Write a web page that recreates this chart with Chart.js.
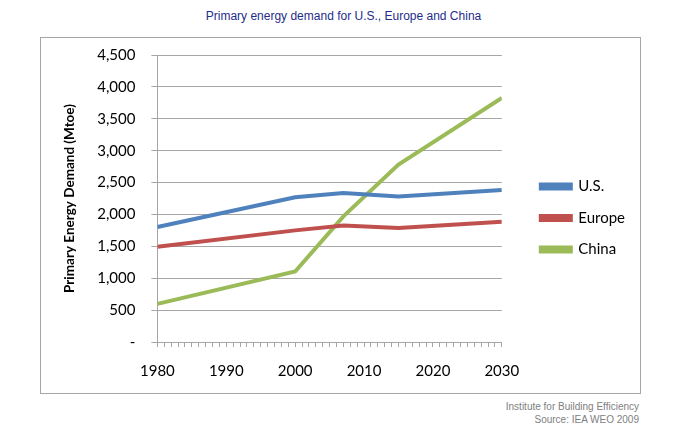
<!DOCTYPE html>
<html>
<head>
<meta charset="utf-8">
<script src="https://cdn.jsdelivr.net/npm/chart.js@4/dist/chart.umd.min.js"></script>
<style>
  body { margin: 0; width: 687px; height: 428px; background: #fff; position: relative; font-family: "Liberation Sans", Arial, sans-serif; }
  #title { position: absolute; left: 0; top: 9px; width: 687px; text-align: center; font-size: 12px; color: #1f2d8a; }
  #box { position: absolute; left: 40px; top: 37px; width: 599px; height: 355px; border: 1px solid #a6a6a6; }
  #foot { position: absolute; right: 48px; top: 400px; text-align: right; font-size: 10px; color: #808080; line-height: 13px; }
</style>
</head>
<body>
<div id="title">Primary energy demand for U.S., Europe and China</div>
<div id="box"><canvas id="chart" width="599" height="355"></canvas></div>
<div id="foot">Institute for Building Efficiency<br>Source: IEA WEO 2009</div>
<script>
const years = [1980, 2000, 2007, 2015, 2030];
const us = [1802, 2270, 2337, 2280, 2385];
const europe = [1494, 1750, 1826, 1788, 1887];
const china = [598, 1105, 1970, 2783, 3827];
const seriesNames = ["U.S.", "Europe", "China"];
const colors = ["#4f81bd", "#c0504d", "#9bbb59"];

const toPoints = vals => vals.map((v, i) => ({ x: years[i], y: v }));
const font = { family: "Lato, 'Open Sans', sans-serif", size: 15 };

// push the legend a bit away from the plot, like the excel original
const legendShift = {
  id: "legendShift",
  afterLayout: chart => {
    chart.legend.left += 22.5;
    chart.legend.right += 22.5;
    chart.legend.top += 1.5;
    chart.legend.bottom += 1.5;
  }
};

var options1 = {
  type: "line",
  data: {
    datasets: [us, europe, china].map((vals, i) => ({
      label: seriesNames[i],
      data: toPoints(vals),
      borderColor: colors[i],
      backgroundColor: colors[i],
      borderWidth: 4,
      pointRadius: 0,
      tension: 0
    }))
  },
  options: {
    responsive: false,
    animation: false,
    layout: { padding: { left: 17, top: 0, right: 27.5, bottom: -2 } },
    plugins: {
      legend: {
        position: "right",
        align: "center",
        labels: { color: "#000", font: font, boxWidth: 30, boxHeight: 4, padding: 16.5 }
      },
      tooltip: { enabled: false }
    },
    scales: {
      x: {
        type: "linear",
        min: 1980,
        max: 2030,
        border: { color: "#a6a6a6", width: 1 },
        grid: { drawOnChartArea: false, drawTicks: true, tickLength: 5, color: "#a6a6a6" },
        ticks: {
          count: 51,
          autoSkip: false,
          maxRotation: 0,
          color: "#000",
          font: font,
          padding: 15,
          callback: v => (v % 10 === 0 ? String(v) : "")
        }
      },
      y: {
        min: 0,
        max: 4500,
        border: { color: "#a6a6a6", width: 1 },
        grid: { color: "#a6a6a6", lineWidth: 1, tickLength: 6 },
        title: { display: true, text: "Primary Energy Demand (Mtoe)", color: "#000", font: { family: font.family, size: 13.5, weight: "bold" }, padding: { bottom: 3 } },
        ticks: {
          stepSize: 500,
          color: "#000",
          font: font,
          padding: 16,
          callback: v => (v === 0 ? "-" : v.toLocaleString("en-US"))
        },
        // tick padding also pads the top, take that back
        afterFit: s => { s.paddingTop = 17; s.paddingBottom = 0; }
      }
    }
  },
  plugins: [legendShift]
};

new Chart(document.getElementById("chart"), options1);
</script>
</body>
</html>
